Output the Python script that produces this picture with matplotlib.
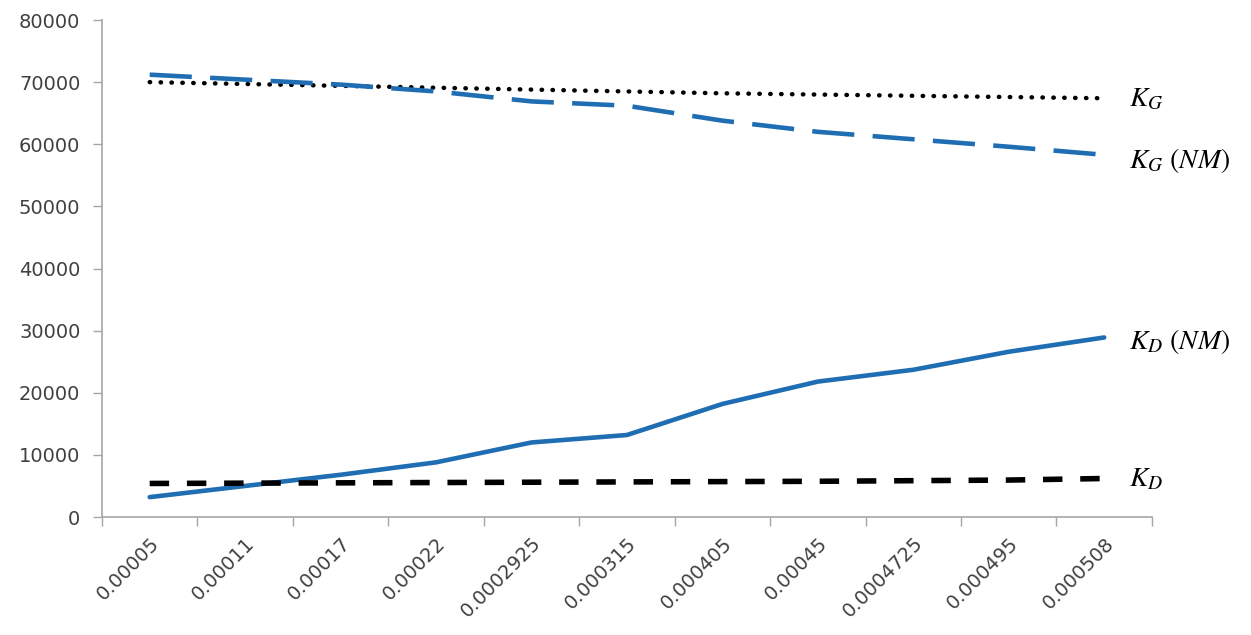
import numpy as np
import matplotlib
matplotlib.use("Agg")
import matplotlib.pyplot as plt

plt.rcParams['mathtext.fontset'] = 'stix'

# shear strain categories on the x axis
strain = ["0.00005", "0.00011", "0.00017", "0.00022", "0.0002925", "0.000315",
          "0.000405", "0.00045", "0.0004725", "0.000495", "0.000508"]

# stiffness values for each curve
kg = [70000, 69700, 69400, 69100, 68800, 68500, 68200, 68000, 67800, 67600, 67400]
kg_nm = [71200, 70400, 69600, 68500, 66900, 66200, 63800, 62000, 60800, 59600, 58300]
kd_nm = [3200, 5000, 6800, 8800, 12000, 13200, 18200, 21800, 23700, 26600, 28900]
kd = [5400, 5450, 5500, 5550, 5600, 5650, 5700, 5750, 5850, 5950, 6200]

curve_names = [r"$K_G$", r"$K_G\ (NM)$", r"$K_D\ (NM)$", r"$K_D$"]
name_shift = [0, -4, -3, 0]   # small vertical nudges (points)

blue = "#1f6eb3"
grey = "#a6a6a6"
txt = "#404040"

fig = plt.figure(figsize=(12.51, 6.35), dpi=100)
ax = fig.add_axes([0.0815, 0.1858, 0.8393, 0.7827])

x = np.arange(len(strain))

ax.plot(x, kg, color="black", lw=3.2, dashes=(0.1, 2.35), dash_capstyle="round")
ax.plot(x, kg_nm, color=blue, lw=3.3, dashes=(9.2, 4.0))
ax.plot(x, kd_nm, color=blue, lw=3.3, solid_capstyle="round")
ax.plot(x, kd, color="black", lw=4.0, dashes=(3.5, 3.2))

# curve names at the right end
for name, series, dy in zip(curve_names, [kg, kg_nm, kd_nm, kd], name_shift):
    ax.annotate(name, xy=(x[-1], series[-1]), xytext=(18, dy),
                textcoords="offset points", va="center", ha="left",
                fontsize=20, color="black", annotation_clip=False)

ax.set_xlim(-0.5, len(strain) - 0.5)
ax.set_ylim(0, 80000)
ax.set_yticks(np.arange(0, 80001, 10000))
ax.tick_params(axis="y", length=6.5, width=1, color=grey, pad=9,
               labelsize=14, labelcolor=txt)

# ticks on category boundaries, labels at category centres
ax.set_xticks(np.arange(-0.5, len(strain), 1.0))
ax.set_xticklabels([])
ax.tick_params(axis="x", which="major", length=6.5, width=1, color=grey)
ax.set_xticks(x, minor=True)
ax.set_xticklabels(strain, minor=True, rotation=45, ha="right",
                   rotation_mode="anchor", fontsize=14, color=txt)
ax.tick_params(axis="x", which="minor", length=0, pad=12)

for side in ["top", "right"]:
    ax.spines[side].set_visible(False)
for side in ["left", "bottom"]:
    ax.spines[side].set_color(grey)
    ax.spines[side].set_linewidth(1.2)

fig.savefig("out.png", dpi=100)
